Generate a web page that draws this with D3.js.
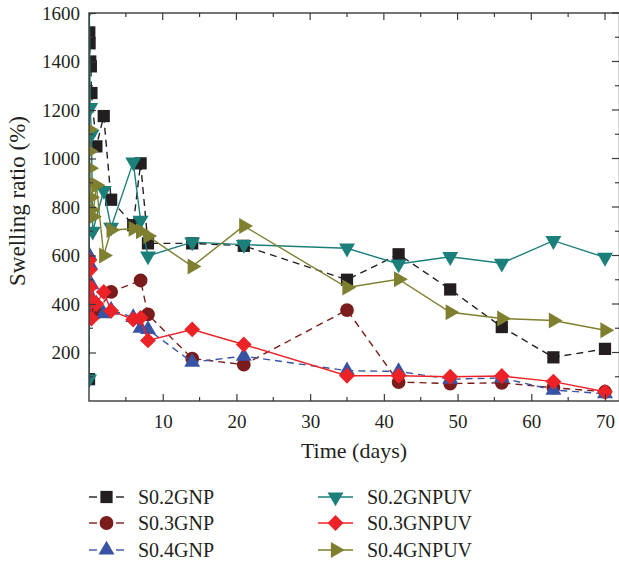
<!DOCTYPE html>
<html>
<head>
<meta charset="utf-8">
<script src="https://cdn.jsdelivr.net/npm/d3@7/dist/d3.min.js"></script>
<style>
  html, body { margin: 0; padding: 0; background: #fff; }
  svg { display: block; }
  text { font-family: "Liberation Serif", "Times New Roman", serif; fill: #231f20; }
</style>
</head>
<body>
<svg id="chart" width="619" height="564"></svg>
<script>
// ---- data: time in days, swelling ratio in % ----
const s02gnpDays = [0, 0.04, 0.08, 0.17, 0.25, 0.33, 1, 2, 3, 6, 7, 8, 14, 21, 35, 42, 49, 56, 63, 70];
const s02gnp     = [90, 1520, 1475, 1400, 1380, 1270, 1050, 1175, 830, 725, 980, 650, 650, 640, 500, 605, 460, 305, 180, 215];

const s03gnpDays = [0.08, 0.25, 1, 3, 7, 8, 14, 21, 35, 42, 49, 56, 63, 70];
const s03gnp     = [420, 350, 365, 450, 497, 357, 175, 150, 375, 78, 72, 75, 55, 38];

const s04gnpDays = [0.04, 0.17, 0.33, 1, 2, 3, 6, 7, 8, 14, 21, 35, 42, 49, 56, 63, 70];
const s04gnp     = [600, 560, 480, 400, 360, 375, 345, 300, 295, 160, 185, 125, 122, 90, 95, 45, 30];

const s02gnpuvDays = [0, 0.04, 0.17, 0.33, 0.5, 2, 3, 6, 7, 8, 14, 21, 35, 42, 49, 56, 63, 70];
const s02gnpuv     = [90, 1620, 1210, 1100, 700, 868, 716, 985, 745, 598, 655, 645, 630, 565, 595, 568, 661, 592];

const s03gnpuvDays = [0.04, 0.08, 0.17, 0.25, 0.33, 1, 2, 3, 6, 7, 8, 14, 21, 35, 42, 49, 56, 63, 70];
const s03gnpuv     = [580, 540, 470, 420, 340, 400, 450, 372, 336, 343, 250, 295, 233, 104, 104, 100, 103, 80, 38];

const s04gnpuvDays = [0.04, 0.08, 0.125, 0.17, 0.25, 0.33, 0.5, 1, 2, 3, 6, 7, 8, 14, 21, 35, 42, 49, 56, 63, 70];
const s04gnpuv     = [1120, 1030, 960, 900, 840, 790, 760, 890, 600, 705, 710, 700, 680, 555, 722, 468, 502, 366, 340, 332, 292];

const seriesNames = ["S0.2GNP", "S0.3GNP", "S0.4GNP", "S0.2GNPUV", "S0.3GNPUV", "S0.4GNPUV"];
const xTickValues = [10, 20, 30, 40, 50, 60, 70];
const yTickValues = [200, 400, 600, 800, 1000, 1200, 1400, 1600];

// ---- styling per series ----
const styles = [
  { color: "#231f20", shape: "square",   dash: "7,5" },
  { color: "#7b1c1c", shape: "circle",   dash: "7,5" },
  { color: "#3953a4", shape: "triUp",    dash: "7,5" },
  { color: "#1b7f7a", shape: "triDown",  dash: null },
  { color: "#ed2227", shape: "diamond",  dash: null },
  { color: "#7f7f30", shape: "triRight", dash: null }
];

const series = [
  [s02gnpDays, s02gnp], [s03gnpDays, s03gnp], [s04gnpDays, s04gnp],
  [s02gnpuvDays, s02gnpuv], [s03gnpuvDays, s03gnpuv], [s04gnpuvDays, s04gnpuv]
].map(([d, v], i) => ({
  name: seriesNames[i],
  style: styles[i],
  points: d.map((t, j) => ({ t, v: v[j] }))
}));

// ---- layout ----
const svg = d3.select("#chart");
const frame = { left: 89, right: 619.5, top: 13, bottom: 401 };
const x = d3.scaleLinear().domain([0, 70]).range([89, 605]);
const y = d3.scaleLinear().domain([0, 1600]).range([401, 13]);

function symbolPath(shape) {
  switch (shape) {
    case "square":   return d3.symbol(d3.symbolSquare, 150)();
    case "circle":   return d3.symbol(d3.symbolCircle, 150)();
    case "triUp":    return d3.symbol(d3.symbolTriangle, 110)();
    case "triDown":  return d3.symbol(d3.symbolTriangle, 110)();
    case "diamond":  return d3.symbol(d3.symbolSquare, 125)();
    case "triRight": return d3.symbol(d3.symbolTriangle, 110)();
  }
}
function symbolRotate(shape) {
  return { triDown: 180, diamond: 45, triRight: 90 }[shape] || 0;
}

// clip to the plotting frame
svg.append("defs").append("clipPath").attr("id", "plotClip")
  .append("rect")
  .attr("x", frame.left).attr("y", frame.top)
  .attr("width", frame.right - frame.left).attr("height", frame.bottom - frame.top);

const plot = svg.append("g").attr("clip-path", "url(#plotClip)");

const line = d3.line().x(d => x(d.t)).y(d => y(d.v));

series.forEach(s => {
  const g = plot.append("g");
  g.append("path")
    .datum(s.points)
    .attr("d", line)
    .attr("fill", "none")
    .attr("stroke", s.style.color)
    .attr("stroke-width", 1.4)
    .attr("stroke-dasharray", s.style.dash);
  g.selectAll("path.mk")
    .data(s.points)
    .join("path")
    .attr("class", "mk")
    .attr("d", symbolPath(s.style.shape))
    .attr("transform", d => `translate(${x(d.t)},${y(d.v)}) rotate(${symbolRotate(s.style.shape)})`)
    .attr("fill", s.style.color);
});

// ---- axes (ticks pointing inward) ----
const axisColor = "#3a3a3a";
const xMinor = d3.range(5, 70, 10);
const yMinor = d3.range(100, 1600, 200);

const xAxis = svg.append("g")
  .attr("transform", `translate(0,${frame.bottom})`)
  .call(d3.axisBottom(x).tickValues(xTickValues).tickFormat(d3.format("d"))
    .tickSizeInner(-7).tickSizeOuter(0).tickPadding(14));
xAxis.select(".domain").remove();
xAxis.selectAll("text").attr("font-size", 19).attr("font-family", "Liberation Serif");

const yAxis = svg.append("g")
  .attr("transform", `translate(${frame.left},0)`)
  .call(d3.axisLeft(y).tickValues(yTickValues).tickFormat(d3.format("d"))
    .tickSizeInner(-7).tickSizeOuter(0).tickPadding(9));
yAxis.select(".domain").remove();
yAxis.selectAll("text").attr("font-size", 19).attr("font-family", "Liberation Serif");

svg.selectAll(".tick line").attr("stroke", axisColor).attr("stroke-width", 1.2);

const ticks = svg.append("g").attr("stroke", axisColor).attr("stroke-width", 1.2);
// top edge
ticks.selectAll(null).data(xTickValues).join("line")
  .attr("x1", d => x(d)).attr("x2", d => x(d)).attr("y1", frame.top).attr("y2", frame.top + 7);
ticks.selectAll(null).data(xMinor).join("line")
  .attr("x1", d => x(d)).attr("x2", d => x(d)).attr("y1", frame.top).attr("y2", frame.top + 4);
// bottom minor
ticks.selectAll(null).data(xMinor).join("line")
  .attr("x1", d => x(d)).attr("x2", d => x(d)).attr("y1", frame.bottom).attr("y2", frame.bottom - 4);
// right edge
ticks.selectAll(null).data(yTickValues).join("line")
  .attr("x1", frame.right).attr("x2", frame.right - 7.5).attr("y1", d => y(d)).attr("y2", d => y(d));
ticks.selectAll(null).data(yMinor).join("line")
  .attr("x1", frame.right).attr("x2", frame.right - 4.5).attr("y1", d => y(d)).attr("y2", d => y(d));
// left minor
ticks.selectAll(null).data(yMinor).join("line")
  .attr("x1", frame.left).attr("x2", frame.left + 4).attr("y1", d => y(d)).attr("y2", d => y(d));

// frame
svg.append("rect")
  .attr("x", frame.left).attr("y", frame.top)
  .attr("width", frame.right - frame.left).attr("height", frame.bottom - frame.top)
  .attr("fill", "none").attr("stroke", axisColor).attr("stroke-width", 1.4);

// axis titles
svg.append("text")
  .attr("x", 354).attr("y", 458)
  .attr("text-anchor", "middle").attr("font-size", 22)
  .text("Time (days)");
svg.append("text")
  .attr("transform", `translate(25,201) rotate(-90)`)
  .attr("text-anchor", "middle").attr("font-size", 23)
  .text("Swelling ratio (%)");

// ---- legend ----
const legendCols = [89, 318];
const legendRows = [497, 523, 550];
const legend = svg.append("g");
series.forEach((s, i) => {
  const cx = legendCols[Math.floor(i / 3)];
  const cy = legendRows[i % 3];
  const g = legend.append("g").attr("transform", `translate(${cx},${cy})`);
  if (s.style.dash) {
    g.append("line").attr("x1", 0).attr("x2", 8).attr("y1", 0).attr("y2", 0)
      .attr("stroke", s.style.color).attr("stroke-width", 1.4);
    g.append("line").attr("x1", 27).attr("x2", 35).attr("y1", 0).attr("y2", 0)
      .attr("stroke", s.style.color).attr("stroke-width", 1.4);
  } else {
    g.append("line").attr("x1", 0).attr("x2", 35).attr("y1", 0).attr("y2", 0)
      .attr("stroke", s.style.color).attr("stroke-width", 1.4);
  }
  g.append("path")
    .attr("d", symbolPath(s.style.shape))
    .attr("transform", `translate(17.5,0) rotate(${symbolRotate(s.style.shape)})`)
    .attr("fill", s.style.color);
  g.append("text")
    .attr("x", 49).attr("y", 0).attr("dy", "0.35em")
    .attr("font-size", 20)
    .text(s.name);
});
</script>
</body>
</html>
